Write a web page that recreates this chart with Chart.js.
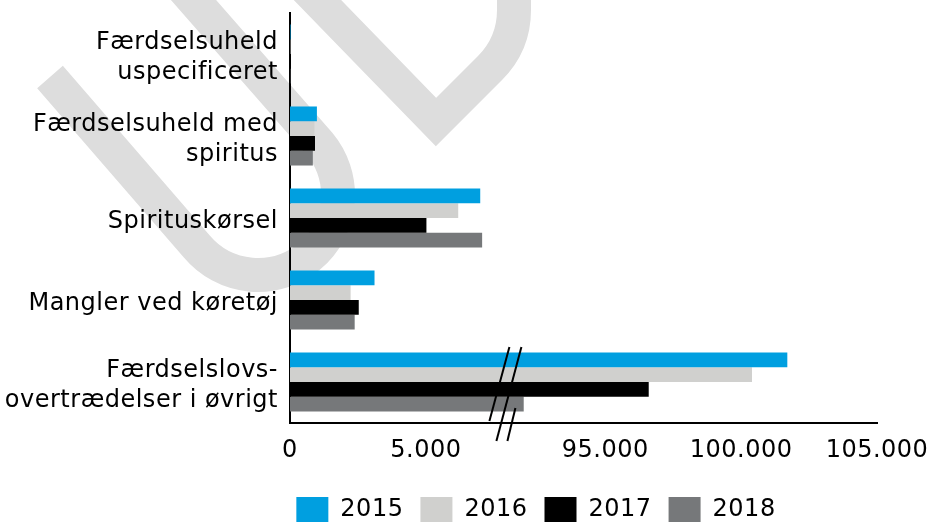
<!DOCTYPE html>
<html>
<head>
<meta charset="utf-8">
<script src="https://cdn.jsdelivr.net/npm/chart.js@4.4.1/dist/chart.umd.min.js"></script>
<style>
body { margin: 0; background: #fff; overflow: hidden; }
#wrap { position: relative; width: 929px; height: 533px; }
</style>
</head>
<body>
<div id="wrap"><canvas id="chart"></canvas></div>
<script>
var categories = [
	['Færdselsuheld', 'uspecificeret'],
	['Færdselsuheld med', 'spiritus'],
	'Spirituskørsel',
	'Mangler ved køretøj',
	['Færdselslovs-', 'overtrædelser i øvrigt']
];
var years = ['2015', '2016', '2017', '2018'];
var colours = ['#009fe0', '#d0d0ce', '#000000', '#76787a'];

var values2015 = [20, 990, 7000, 3110, 101700];
var values2016 = [15, 900, 6190, 2230, 100400];
var values2017 = [10, 920, 5020, 2530, 96600];
var values2018 = [12, 840, 7070, 2380, 92000];

var tickValues = [0, 5000, 95000, 100000, 105000];

// axis break: values above BREAK_LOW are pulled down by GAP
var BREAK_LOW = 8000;
var GAP = 83400;

function toAxis(v)
{
	return v > BREAK_LOW ? v - GAP : v;
}

function fmt(n)
{
	return String(n).replace(/\B(?=(\d{3})+(?!\d))/g, '.');
}

var font = { family: "'DejaVu Sans', Verdana, sans-serif", size: 24, lineHeight: 1.25 };

// slightly looser text, like the original Verdana
var spacing = {
	id: 'spacing',
	beforeUpdate: function(chart) { chart.ctx.letterSpacing = '0.5px'; },
	beforeDraw: function(chart) { chart.ctx.letterSpacing = '0.5px'; }
};

// grey logo watermark behind the chart
var watermark = {
	id: 'watermark',
	beforeDraw: function(chart) {
		var ctx = chart.ctx;
		ctx.save();
		ctx.strokeStyle = '#dddddd';
		ctx.lineWidth = 34;
		ctx.lineCap = 'butt';
		ctx.lineJoin = 'miter';
		var cx = 258, cy = 195, r = 80;
		var a1 = 140 * Math.PI / 180, a2 = -40 * Math.PI / 180;
		ctx.beginPath();
		ctx.moveTo(50, 77);
		ctx.lineTo(cx + r * Math.cos(a1), cy + r * Math.sin(a1));
		ctx.arc(cx, cy, r, a1, a2, true);
		ctx.lineTo(176, -20);
		ctx.stroke();
		ctx.beginPath();
		ctx.moveTo(298, -20);
		ctx.lineTo(436, 122);
		ctx.lineTo(490, 68);
		ctx.quadraticCurveTo(514, 44, 514, 10);
		ctx.lineTo(514, -20);
		ctx.stroke();
		ctx.restore();
	}
};

// the // marks showing the broken axis
var axisBreak = {
	id: 'axisBreak',
	afterDraw: function(chart) {
		var ctx = chart.ctx;
		var xs = chart.scales.x, ys = chart.scales.y;
		var bx = xs.getPixelForValue(BREAK_LOW);
		var yc = ys.getPixelForValue(4);
		var ya = chart.chartArea.bottom;
		var lines = [
			[bx + 2, yc - 35, bx - 18, ya - 2],
			[bx + 14, yc - 35, bx - 11, ya + 18],
			[bx + 8, ya - 15, bx, ya + 18]
		];
		ctx.save();
		ctx.strokeStyle = '#000';
		ctx.lineWidth = 2;
		lines.forEach(function(l) {
			ctx.beginPath();
			ctx.moveTo(l[0], l[1]);
			ctx.lineTo(l[2], l[3]);
			ctx.stroke();
		});
		ctx.restore();
	}
};

// legend sits centred under the plot area rather than the whole canvas
var legendShift = {
	id: 'legendShift',
	afterLayout: function(chart) {
		if (chart.legend) chart.legend.left = 143;
	}
};

var series = [values2015, values2016, values2017, values2018];

new Chart(document.getElementById('chart').getContext('2d'), {
	type: 'bar',
	data: {
		labels: categories,
		datasets: years.map(function(year, i) {
			return {
				label: year,
				data: series[i].map(toAxis),
				backgroundColor: colours[i],
				borderWidth: 0,
				categoryPercentage: 0.72,
				barPercentage: 1.0
			};
		})
	},
	options: {
		indexAxis: 'y',
		responsive: true,
		maintainAspectRatio: false,
		animation: false,
		layout: { padding: { left: 0, top: 13, right: 0, bottom: 0 } },
		scales: {
			x: {
				min: 0,
				max: toAxis(105000),
				grid: { display: false },
				border: { display: true, color: '#000', width: 2 },
				afterBuildTicks: function(scale) {
					scale.ticks = tickValues.map(function(v) { return { value: toAxis(v) }; });
				},
				afterFit: function(scale) {
					scale.height = 57;
					scale.paddingRight = 52;
				},
				ticks: {
					color: '#000',
					font: font,
					padding: 5,
					maxRotation: 0,
					autoSkip: false,
					callback: function(value, index) { return fmt(tickValues[index]); }
				}
			},
			y: {
				grid: { display: false },
				border: { display: true, color: '#000', width: 2 },
				afterFit: function(scale) {
					scale.width = 290;
					scale.paddingTop = 0;
					scale.paddingBottom = 0;
				},
				ticks: { color: '#000', font: font, padding: 4, labelOffset: 4, autoSkip: false }
			}
		},
		plugins: {
			legend: {
				position: 'bottom',
				labels: { boxWidth: 32, boxHeight: 26, padding: 17, color: '#000', font: font }
			},
			tooltip: { enabled: false }
		}
	},
	plugins: [spacing, watermark, axisBreak, legendShift]
});
</script>
</body>
</html>
